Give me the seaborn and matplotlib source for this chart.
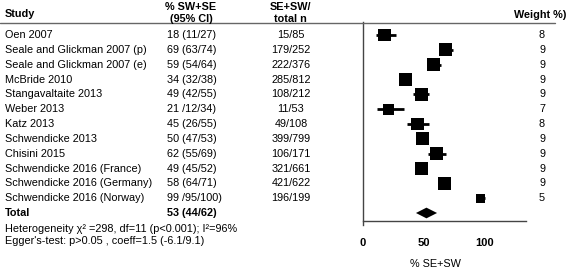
import matplotlib
matplotlib.use("Agg")
import matplotlib.pyplot as plt
import matplotlib.transforms as mtransforms
import seaborn as sns
import pandas as pd

sns.set_style("white")
plt.rcParams["font.family"] = ["Liberation Sans", "DejaVu Sans"]
plt.rcParams["text.color"] = "black"
plt.rcParams["xtick.color"] = "black"

studies = [
    "Oen 2007",
    "Seale and Glickman 2007 (p)",
    "Seale and Glickman 2007 (e)",
    "McBride 2010",
    "Stangavaltaite 2013",
    "Weber 2013",
    "Katz 2013",
    "Schwendicke 2013",
    "Chisini 2015",
    "Schwendicke 2016 (France)",
    "Schwendicke 2016 (Germany)",
    "Schwendicke 2016 (Norway)",
]
ci_text = ["18 (11/27)", "69 (63/74)", "59 (54/64)", "34 (32/38)", "49 (42/55)",
           "21 /12/34)", "45 (26/55)", "50 (47/53)", "62 (55/69)", "49 (45/52)",
           "58 (64/71)", "99 /95/100)"]
n_text = ["15/85", "179/252", "222/376", "285/812", "108/212", "11/53",
          "49/108", "399/799", "106/171", "321/661", "421/622", "196/199"]
weights = [8, 9, 9, 9, 9, 7, 8, 9, 9, 9, 9, 5]

# positions as drawn in the plot
est = [17.6, 67.6, 58, 35, 48, 21, 44.7, 49, 60.6, 48, 66.8, 96.3]
lower = [10.7, 63, 54, 32, 41, 11.5, 36, 47, 53, 45, 64, 95]
upper = [27, 74, 64, 38, 54, 33.6, 54, 53, 68, 52, 71, 100]

total_est, total_lo, total_hi = 52, 43.4, 60.7
total_text = "53 (44/62)"

df = pd.DataFrame({"study": studies, "est": est, "lo": lower,
                   "hi": upper, "weight": weights})
df["row"] = range(len(df))
total_row = len(df)

W, H = 567, 269
fig = plt.figure(figsize=(W / 100, H / 100), dpi=100)
ax = fig.add_axes([363 / W, 1 - 221 / H, (526 - 363) / W, (221 - 22) / H])

ax.hlines(df["row"], df["lo"], df["hi"], color="black", linewidth=2)
sns.scatterplot(data=df, x="est", y="row", size="weight", sizes=(45, 88),
                marker="s", color="black", linewidth=0, legend=False, ax=ax)

half = 0.36
ax.fill([total_lo, total_est, total_hi, total_est],
        [total_row, total_row - half, total_row, total_row + half],
        color="black", linewidth=0)

ax.set_xlim(0, 133.6)
ax.set_ylim(12.54, -0.88)
ax.set_xticks([0, 50, 100])
ax.set_xticklabels(["0", "50", "100"], fontweight="bold", fontsize=8)
ax.set_yticks([])
ax.set_xlabel("")
ax.set_ylabel("")
sns.despine(ax=ax)
for s in ["left", "bottom"]:
    ax.spines[s].set_color("#444444")
    ax.spines[s].set_linewidth(1)
ax.tick_params(axis="x", direction="out", length=4, width=1, color="#444444", pad=8)
ax.spines["left"].set_bounds(12.8, -0.88)

fs = 7.8
trans = mtransforms.blended_transform_factory(fig.transFigure, ax.transData)
for i, row in df.iterrows():
    ax.text(5 / W, row["row"], studies[i], transform=trans, fontsize=fs,
            va="center", ha="left", clip_on=False)
    ax.text(167 / W, row["row"], ci_text[i], transform=trans, fontsize=fs,
            va="center", ha="left", clip_on=False)
    ax.text(291 / W, row["row"], n_text[i], transform=trans, fontsize=fs,
            va="center", ha="center", clip_on=False)
    ax.text(542 / W, row["row"], str(weights[i]), transform=trans, fontsize=fs,
            va="center", ha="center", clip_on=False)

ax.text(5 / W, total_row, "Total", transform=trans, fontsize=fs,
        fontweight="bold", va="center", ha="left", clip_on=False)
ax.text(167 / W, total_row, total_text, transform=trans, fontsize=fs,
        fontweight="bold", va="center", ha="left", clip_on=False)

# headers
fig.text(5 / W, 1 - 14 / H, "Study", fontsize=fs, fontweight="bold", va="center")
fig.text(191 / W, 1 - 7 / H, "% SW+SE", fontsize=fs, fontweight="bold",
         va="center", ha="center")
fig.text(191 / W, 1 - 19 / H, "(95% CI)", fontsize=fs, fontweight="bold",
         va="center", ha="center")
fig.text(290 / W, 1 - 7 / H, "SE+SW/", fontsize=fs, fontweight="bold",
         va="center", ha="center")
fig.text(290 / W, 1 - 19 / H, "total n", fontsize=fs, fontweight="bold",
         va="center", ha="center")
fig.text(540 / W, 1 - 15 / H, "Weight %)", fontsize=fs, fontweight="bold",
         va="center", ha="center")
fig.add_artist(plt.Line2D([0, 555 / W], [1 - 22.5 / H, 1 - 22.5 / H],
                          transform=fig.transFigure, color="#666666", linewidth=1))

# footer
fig.text(5 / W, 1 - 229 / H, "Heterogeneity χ² =298, df=11 (p<0.001); I²=96%",
         fontsize=fs, va="center")
fig.text(5 / W, 1 - 241 / H, "Egger's-test: p>0.05 , coeff=1.5 (-6.1/9.1)",
         fontsize=fs, va="center")
fig.text(435 / W, 1 - 264 / H, "% SE+SW", fontsize=fs, va="center", ha="center")

plt.savefig("out.png", dpi=100)
